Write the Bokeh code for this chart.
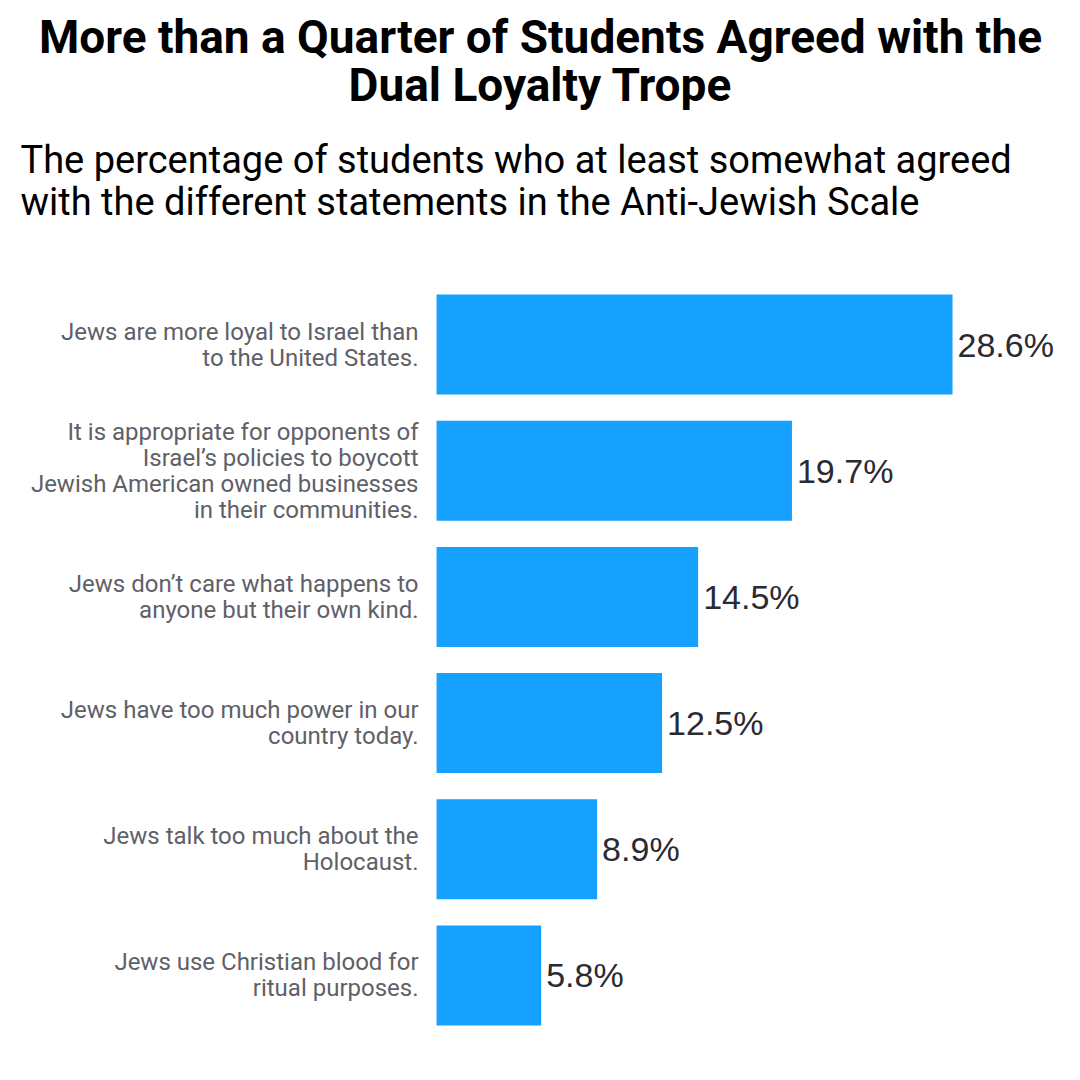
from bokeh.plotting import figure
from bokeh.models import ColumnDataSource, Range1d, FactorRange, Label
from bokeh.layouts import column
from bokeh.embed import file_html
from bokeh.resources import INLINE

# data
statements = [
    "Jews are more loyal to Israel than\nto the United States.",
    "It is appropriate for opponents of\nIsrael\u2019s policies to boycott\nJewish American owned businesses\nin their communities.",
    "Jews don\u2019t care what happens to\nanyone but their own kind.",
    "Jews have too much power in our\ncountry today.",
    "Jews talk too much about the\nHolocaust.",
    "Jews use Christian blood for\nritual purposes.",
]
pct = [28.6, 19.7, 14.5, 12.5, 8.9, 5.8]
pct_labels = ["%.1f%%" % v for v in pct]

title_1 = "More than a Quarter of Students Agreed with the"
title_2 = "Dual Loyalty Trope"
sub_1 = "The percentage of students who at least somewhat agreed"
sub_2 = "with the different statements in the Anti-Jewish Scale"

W = 1072
HEAD = 281

# header: titles
head = figure(width=W, height=HEAD, x_range=Range1d(0, W), y_range=Range1d(HEAD, 0),
              output_backend="svg", toolbar_location=None, min_border=0,
              x_axis_location=None, y_axis_location=None)
head.grid.visible = False
head.outline_line_color = None
for txt, y in [(title_1, 36), (title_2, 84)]:
    head.add_layout(Label(x=540, y=y, text=txt, text_align="center", text_baseline="alphabetic",
                          text_font="Roboto", text_font_style="bold", text_font_size="46px",
                          text_color="#000000"))
for txt, y in [(sub_1, 159), (sub_2, 201)]:
    head.add_layout(Label(x=20, y=y, text=txt, text_align="left", text_baseline="alphabetic",
                          text_font="Roboto", text_font_size="38px", text_color="#000000"))

# bars
src = ColumnDataSource(data=dict(stmt=statements, pct=pct, lbl=pct_labels))

p = figure(width=W, height=791, x_range=Range1d(-24.17, 35.25),
           y_range=FactorRange(*reversed(statements), range_padding=0),
           output_backend="svg", toolbar_location=None, min_border=0, min_border_bottom=34,
           x_axis_location=None, y_axis_location=None)
p.grid.visible = False
p.outline_line_color = None

p.hbar(y="stmt", right="pct", left=0, height=0.792, source=src,
       fill_color="#15a1fd", line_color=None)

p.text(x=-1.0, y="stmt", text="stmt", source=src, text_align="right", text_baseline="middle",
       text_font={"value": "Roboto"}, text_font_size="24px", text_color="#606068",
       text_line_height=0.93)

p.text(x="pct", y="stmt", text="lbl", source=src, x_offset=5, text_align="left",
       text_baseline="middle", text_font={"value": "Liberation Sans"}, text_font_size="34px",
       text_color="#2a2a32")

layout = column(head, p, spacing=0)

open("out.html", "w").write(file_html(layout, INLINE))
